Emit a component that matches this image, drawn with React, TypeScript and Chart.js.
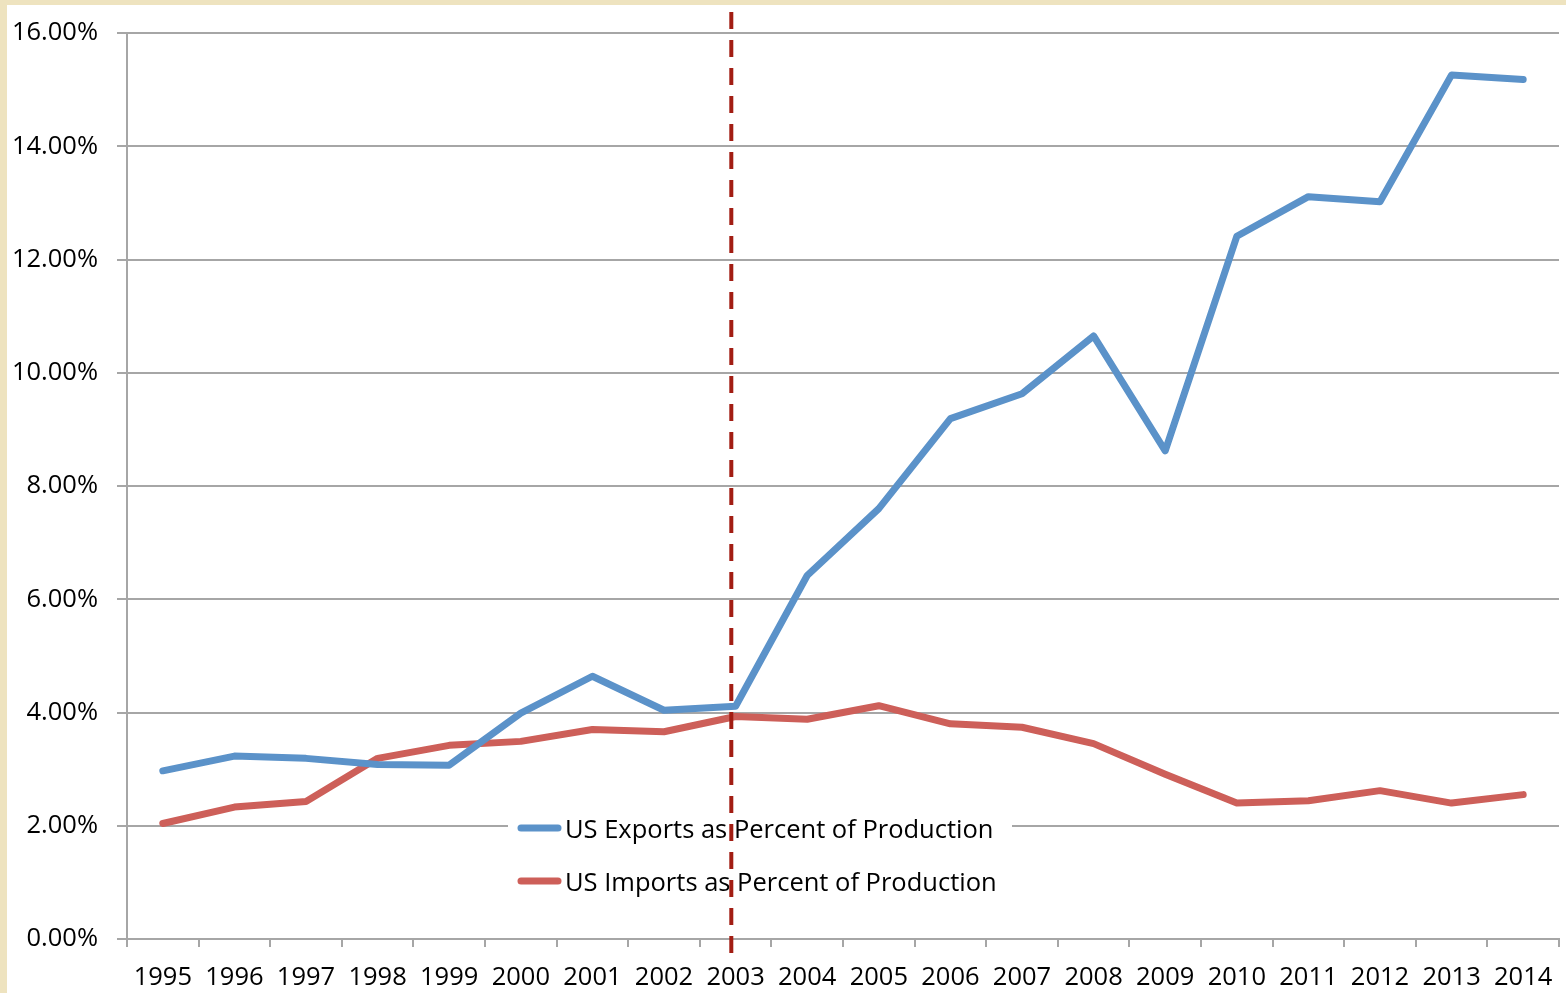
import React, { useEffect, useRef } from "react";
import { Chart, registerables } from "chart.js";

Chart.register(...registerables);

const years = ["1995", "1996", "1997", "1998", "1999", "2000", "2001", "2002", "2003", "2004", "2005", "2006", "2007", "2008", "2009", "2010", "2011", "2012", "2013", "2014"];
const exportsPct = [2.97, 3.23, 3.19, 3.08, 3.07, 3.99, 4.64, 4.04, 4.11, 6.42, 7.6, 9.19, 9.63, 10.65, 8.62, 12.41, 13.11, 13.02, 15.26, 15.18];
const importsPct = [2.04, 2.33, 2.43, 3.19, 3.42, 3.49, 3.7, 3.66, 3.93, 3.88, 4.12, 3.8, 3.74, 3.45, 2.91, 2.4, 2.44, 2.62, 2.4, 2.55];
const seriesLabels = ["US Exports as Percent of Production", "US Imports as Percent of Production"];
const yMin = 0;
const yMax = 16;
const yStep = 2;
const markerYear = "2003";

const FONT = "'Open Sans', sans-serif";
const BLUE = "#5b92c9";
const RED = "#cd5f59";
const GRID = "#a6a6a6";

const overlayPlugin = {
  id: "overlay",
  afterDatasetsDraw(chart: any) {
    const ctx = chart.ctx;
    ctx.save();
    ctx.fillStyle = "#ffffff";
    ctx.fillRect(501, 803, 504, 102);
    const rows = [833, 886];
    chart.data.datasets.forEach((ds: any, i: number) => {
      const base = rows[i];
      const mid = base - 10;
      ctx.strokeStyle = ds.borderColor;
      ctx.lineWidth = 7;
      ctx.lineCap = "round";
      ctx.setLineDash([]);
      ctx.beginPath();
      ctx.moveTo(514, mid);
      ctx.lineTo(551, mid);
      ctx.stroke();
      ctx.fillStyle = "#000";
      ctx.font = `25.5px ${FONT}`;
      ctx.textBaseline = "alphabetic";
      ctx.textAlign = "left";
      ctx.fillText(ds.label, 558, base);
    });
    ctx.restore();
  },
  afterDraw(chart: any) {
    const ctx = chart.ctx;
    const xs = chart.scales.x;
    const idx = years.indexOf(markerYear);
    const x = xs.getPixelForValue(idx - 0.06);
    ctx.save();
    ctx.strokeStyle = "#a21d13";
    ctx.lineWidth = 4;
    ctx.setLineDash([17, 11]);
    ctx.lineCap = "butt";
    ctx.beginPath();
    ctx.moveTo(x, 7);
    ctx.lineTo(x, 948);
    ctx.stroke();
    ctx.restore();
  },
};

export default function App() {
  const ref = useRef<HTMLCanvasElement | null>(null);

  useEffect(() => {
    document.body.style.margin = "0";
    const canvas = ref.current;
    if (!canvas) return;
    const chart = new Chart(canvas, {
      type: "line",
      data: {
        labels: years,
        datasets: [
          {
            label: seriesLabels[0],
            data: exportsPct,
            borderColor: BLUE,
            backgroundColor: BLUE,
            borderWidth: 7,
            pointRadius: 0,
            tension: 0,
            borderCapStyle: "round",
            borderJoinStyle: "round",
          },
          {
            label: seriesLabels[1],
            data: importsPct,
            borderColor: RED,
            backgroundColor: RED,
            borderWidth: 7,
            pointRadius: 0,
            tension: 0,
            borderCapStyle: "round",
            borderJoinStyle: "round",
          },
        ],
      },
      options: {
        responsive: false,
        animation: false,
        devicePixelRatio: 1,
        layout: { autoPadding: false, padding: { top: 28, right: 7, left: 0, bottom: 0 } },
        plugins: {
          legend: { display: false },
          tooltip: { enabled: false },
        },
        scales: {
          x: {
            type: "category",
            offset: true,
            grid: {
              offset: true,
              drawOnChartArea: false,
              drawTicks: true,
              tickLength: 8,
              color: GRID,
              lineWidth: 2,
            },
            border: { color: GRID, width: 2 },
            ticks: {
              color: "#000",
              font: { family: FONT, size: 25.5 },
              padding: 15,
              maxRotation: 0,
              autoSkip: false,
            },
            afterFit: (axis: any) => {
              axis.height = 54;
              axis.paddingLeft = 0;
              axis.paddingRight = 0;
            },
          },
          y: {
            min: yMin,
            max: yMax,
            grid: {
              color: GRID,
              lineWidth: 2,
              tickLength: 10,
              drawTicks: true,
            },
            border: { color: GRID, width: 2 },
            ticks: {
              stepSize: yStep,
              color: "#000",
              font: { family: FONT, size: 25.5 },
              padding: 19,
              callback: (v: any) => Number(v).toFixed(2) + "%",
            },
            afterFit: (axis: any) => {
              axis.width = 120;
              axis.paddingTop = 0;
              axis.paddingBottom = 0;
            },
          },
        },
      },
      plugins: [overlayPlugin],
    } as any);
    return () => chart.destroy();
  }, []);

  return (
    <div style={{ position: "absolute", left: 0, top: 0, width: 1566, height: 993, background: "#eee3bf", overflow: "hidden" }}>
      <div style={{ position: "absolute", left: 7, top: 5, width: 1559, height: 988, background: "#ffffff" }}>
        <canvas ref={ref} width={1559} height={988} style={{ display: "block" }} />
      </div>
    </div>
  );
}
